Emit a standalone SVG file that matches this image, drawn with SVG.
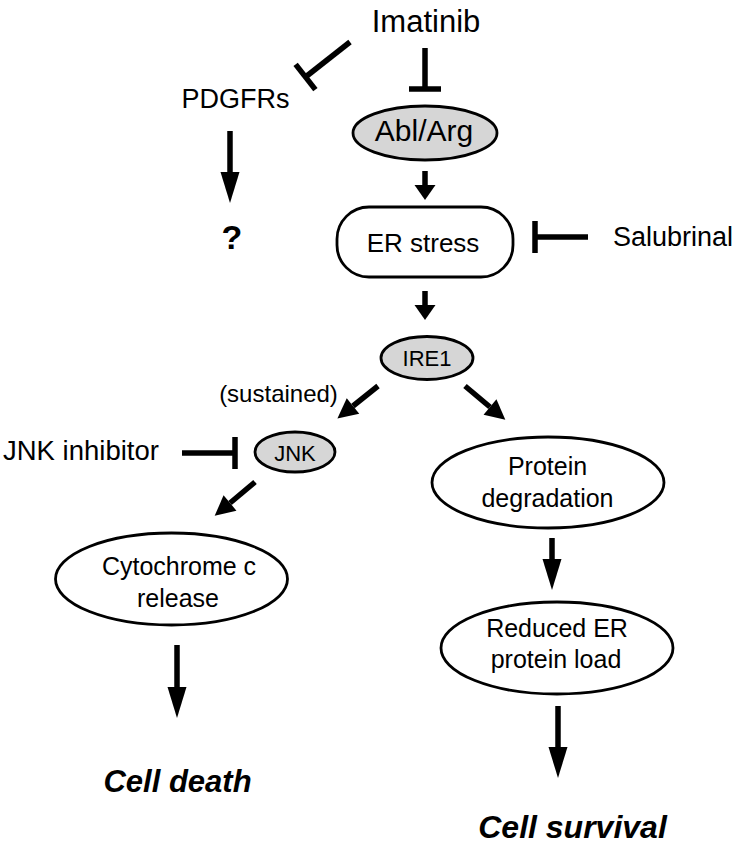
<svg xmlns="http://www.w3.org/2000/svg" width="746" height="851" viewBox="0 0 746 851">
<style>
text{font-family:"Liberation Sans",Arial,sans-serif;fill:#000;text-anchor:middle}
.n{fill:#fff;stroke:#000;stroke-width:2.8}
.g{fill:#d6d6d6;stroke:#000;stroke-width:2.8}
.c{stroke:#000;stroke-width:5.5;fill:none}
.bi{font-weight:bold;font-style:italic}
</style>
<defs>
<marker id="ahS" markerUnits="userSpaceOnUse" orient="auto" refX="0" refY="0" markerWidth="20" markerHeight="24" overflow="visible"><path d="M0,-10.5 L15,0 L0,10.5 Z" fill="#000"/></marker>
<marker id="ahM" markerUnits="userSpaceOnUse" orient="auto" refX="0" refY="0" markerWidth="24" markerHeight="24" overflow="visible"><path d="M0,-10 L20,0 L0,10 Z" fill="#000"/></marker>
<marker id="ahL" markerUnits="userSpaceOnUse" orient="auto" refX="0" refY="0" markerWidth="34" markerHeight="24" overflow="visible"><path d="M0,-9.5 L31,0 L0,9.5 Z" fill="#000"/></marker>
<marker id="tee" markerUnits="userSpaceOnUse" orient="auto" refX="0" refY="0" markerWidth="8" markerHeight="36" overflow="visible"><path d="M0,-16 V16" stroke="#000" stroke-width="5.5"/></marker>
</defs>
<g id="connectors">
<line class="c" x1="350" y1="42" x2="305.5" y2="77" marker-end="url(#tee)"/>
<line class="c" x1="425" y1="48" x2="425" y2="89" marker-end="url(#tee)"/>
<line class="c" x1="588" y1="237" x2="535" y2="237" marker-end="url(#tee)"/>
<line class="c" x1="182" y1="453" x2="235" y2="453" marker-end="url(#tee)"/>
<line class="c" x1="230" y1="131" x2="230" y2="172" marker-end="url(#ahL)"/>
<line class="c" x1="425" y1="171" x2="425" y2="185" marker-end="url(#ahS)"/>
<line class="c" x1="425" y1="291" x2="425" y2="305" marker-end="url(#ahS)"/>
<line class="c" x1="378" y1="386" x2="353" y2="406" marker-end="url(#ahM)"/>
<line class="c" x1="465" y1="386" x2="490" y2="407" marker-end="url(#ahM)"/>
<line class="c" x1="255" y1="482" x2="230" y2="503" marker-end="url(#ahM)"/>
<line class="c" x1="177" y1="645" x2="177" y2="687" marker-end="url(#ahL)"/>
<line class="c" x1="552" y1="538" x2="552" y2="559" marker-end="url(#ahL)"/>
<line class="c" x1="558" y1="706" x2="558" y2="747" marker-end="url(#ahL)"/>
</g>
<g id="imatinib"><text x="426" y="32" font-size="31">Imatinib</text></g>
<g id="pdgfrs"><text x="235.5" y="108" font-size="27">PDGFRs</text></g>
<g id="unknown"><text x="232" y="249" font-size="34" font-weight="bold">?</text></g>
<g id="ablarg"><ellipse class="g" cx="425" cy="133" rx="72" ry="27"/><text x="424" y="141" font-size="30">Abl/Arg</text></g>
<g id="erstress"><rect class="n" x="337" y="207" width="176" height="70" rx="32" ry="32"/><text x="423" y="252" font-size="26">ER stress</text></g>
<g id="salubrinal"><text x="613" y="246" font-size="27" style="text-anchor:start">Salubrinal</text></g>
<g id="ire1"><ellipse class="g" cx="427" cy="358" rx="46" ry="21.5"/><text x="427" y="366" font-size="22">IRE1</text></g>
<g id="sustained"><text x="278.5" y="402" font-size="24">(sustained)</text></g>
<g id="jnkinhibitor"><text x="3" y="460" font-size="27.5" style="text-anchor:start">JNK inhibitor</text></g>
<g id="jnk"><ellipse class="g" cx="295" cy="452" rx="40" ry="20"/><text x="295" y="461" font-size="22">JNK</text></g>
<g id="cytochrome"><ellipse class="n" cx="171.5" cy="579" rx="116" ry="46"/><text x="179" y="575" font-size="25">Cytochrome c</text><text x="178" y="607" font-size="25">release</text></g>
<g id="proteindeg"><ellipse class="n" cx="548" cy="482.5" rx="116" ry="45.5"/><text x="547.5" y="475" font-size="25">Protein</text><text x="547.5" y="507" font-size="25">degradation</text></g>
<g id="reducedload"><ellipse class="n" cx="557" cy="648" rx="116" ry="46"/><text x="557" y="637" font-size="25">Reduced ER</text><text x="556" y="668" font-size="25">protein load</text></g>
<g id="celldeath"><text class="bi" x="177.5" y="792" font-size="31">Cell death</text></g>
<g id="cellsurvival"><text class="bi" x="572.5" y="838" font-size="32">Cell survival</text></g>
</svg>
